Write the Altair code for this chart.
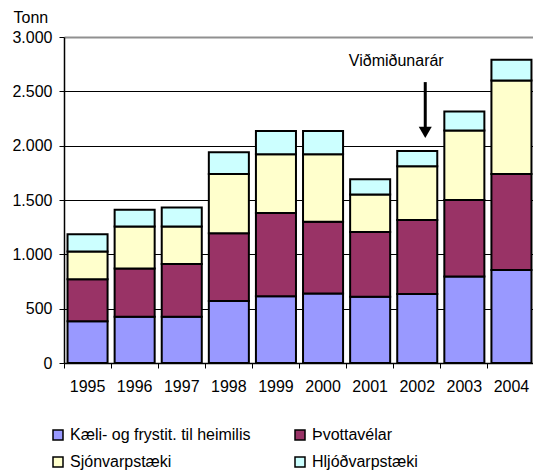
import altair as alt
import pandas as pd

years = ["1995", "1996", "1997", "1998", "1999", "2000", "2001", "2002", "2003", "2004"]
series = ["Kæli- og frystit. til heimilis", "Þvottavélar", "Sjónvarpstæki", "Hljóðvarpstæki"]
kaeli = [385, 425, 425, 570, 615, 640, 610, 635, 795, 855]
thvotta = [385, 445, 485, 625, 765, 660, 595, 680, 705, 885]
sjonvarp = [255, 385, 345, 545, 540, 620, 345, 495, 640, 860]
hljod = [160, 155, 175, 200, 215, 215, 140, 140, 175, 190]
colors = ["#9999FF", "#993366", "#FFFFCC", "#CCFFFF"]

annot_year = "2002"
annot_text = "Viðmiðunarár"

rows = []
for si, (name, vals) in enumerate(zip(series, [kaeli, thvotta, sjonvarp, hljod])):
    for y, v in zip(years, vals):
        rows.append({"year": y, "series": name, "value": v, "order": si})
df = pd.DataFrame(rows)

FONT = "Liberation Sans"
XSCALE = alt.Scale(domain=years, paddingInner=0, paddingOuter=0, range=[0, 471])

x_enc = alt.X("year:N", sort=years, title=None, scale=XSCALE,
              axis=alt.Axis(bandPosition=0, labelAngle=0, labelFontSize=16, labelColor="black",
                            labelFont=FONT, tickColor="black", tickSize=5, domainColor="black",
                            domainWidth=1.5, labelPadding=10, grid=False))

bars = alt.Chart(df).mark_bar(stroke="black", strokeWidth=2, width=alt.RelativeBandSize(0.85)).encode(
    x=x_enc,
    y=alt.Y("value:Q", stack="zero", title="Tonn",
            scale=alt.Scale(domain=[0, 3000]),
            axis=alt.Axis(values=[0, 500, 1000, 1500, 2000, 2500, 3000],
                          labelExpr="replace(format(datum.value, ','), ',', '.')",
                          labelFontSize=16, labelFont=FONT, labelColor="black",
                          tickColor="black", tickSize=5, labelPadding=7,
                          domainColor="black", domainWidth=1.5,
                          grid=True,
                          gridColor={"condition": {"test": "datum.value == 3000", "value": "#909090"}, "value": "#000000"},
                          gridWidth={"condition": {"test": "datum.value == 3000", "value": 2}, "value": 1},
                          titleAngle=0, titleAlign="left", titleBaseline="alphabetic",
                          titleX=-51, titleY=-15, titleFontSize=16, titleFont=FONT,
                          titleFontWeight="normal", titleColor="black")),
    color=alt.Color("series:N", sort=series,
                    scale=alt.Scale(domain=series, range=colors),
                    legend=alt.Legend(title=None, orient="none", legendX=-14, legendY=390,
                                      direction="horizontal",
                                      columns=2, columnPadding=41, rowPadding=11,
                                      symbolType="square", symbolSize=100,
                                      symbolStrokeColor="black", symbolStrokeWidth=1.5,
                                      labelFontSize=16, labelFont=FONT, labelColor="black",
                                      labelLimit=400, labelOffset=4)),
    order=alt.Order("order:Q", sort="ascending"),
)

ann = pd.DataFrame({"year": [annot_year], "ty": [2732], "text": [annot_text],
                    "a1": [2585], "a2": [2150], "ah": [2122]})

text = alt.Chart(ann).mark_text(dx=-21, align="center", baseline="alphabetic",
                                fontSize=16, font=FONT, color="black").encode(
    x=alt.X("year:N", sort=years, scale=XSCALE), y=alt.Y("ty:Q"), text="text:N")

shaft = alt.Chart(ann).mark_rule(strokeWidth=3, color="black", xOffset=8).encode(
    x=alt.X("year:N", sort=years, scale=XSCALE), y=alt.Y("a1:Q"), y2="a2:Q")

head = alt.Chart(ann).mark_point(shape="triangle-down", filled=True, color="black",
                                 opacity=1, size=170, xOffset=8).encode(
    x=alt.X("year:N", sort=years, scale=XSCALE), y=alt.Y("ah:Q"))

chart = alt.layer(bars, text, shaft, head).properties(
    width=469, height=326,
    autosize=alt.AutoSizeParams(type="none"),
    padding={"left": 56, "top": 29, "right": 0, "bottom": 110},
).configure_view(stroke=None)

chart.save("out.html", embed_options={"renderer": "svg", "actions": False})
